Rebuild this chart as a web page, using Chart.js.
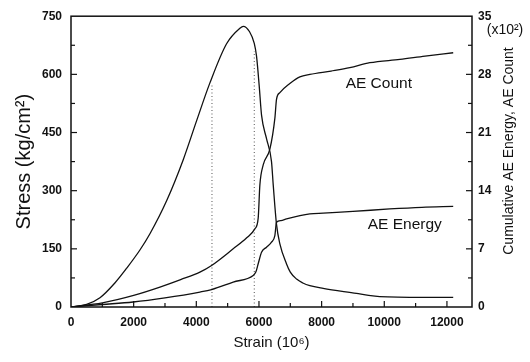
<!DOCTYPE html>
<html>
<head>
<meta charset="utf-8">
<script src="https://cdn.jsdelivr.net/npm/chart.js@4.4.0/dist/chart.umd.min.js"></script>
<style>
  html, body { margin: 0; padding: 0; background: #fff; }
  #wrap { width: 530px; height: 362px; }
</style>
</head>
<body>
<div id="wrap"><canvas id="c"></canvas></div>
<script>
// stress curve (left axis)
const stressStrain = [0, 500, 925, 1400, 1776, 2200, 2520, 3052, 3583, 4008, 4434, 4966, 5391, 5500, 5700, 5850, 5922, 6007, 6082, 6241, 6400, 6455, 6560, 6667, 6880, 7000, 7200, 7400, 7624, 8049, 9113, 9500, 9856, 11238, 12200];
const stress = [0, 7, 24, 62, 100, 147, 189, 274, 380, 480, 578, 679, 719, 724, 710, 680, 647, 571, 495, 434, 375, 315, 213, 163, 111, 90, 72, 62, 55, 48, 35, 30, 27, 25, 25];

// cumulative AE count, x10^2 (right axis)
const countStrain = [0, 1000, 2000, 2839, 3500, 4115, 4488, 5177, 5600, 5869, 5975, 6029, 6135, 6348, 6507, 6560, 6667, 6986, 7305, 7624, 8300, 8900, 9537, 10500, 11300, 12200];
const aeCount = [0, 0.5, 1.4, 2.4, 3.3, 4.2, 5.0, 7.0, 8.3, 9.4, 10.7, 14.7, 17.1, 19.0, 22.7, 25.0, 25.8, 26.9, 27.7, 28.0, 28.4, 28.8, 29.4, 29.8, 30.2, 30.6];

// cumulative AE energy (right axis)
const energyStrain = [0, 1000, 1980, 3000, 4115, 4488, 5177, 5816, 5900, 5975, 6082, 6241, 6400, 6507, 6560, 6700, 6880, 7624, 8049, 9000, 10175, 11200, 12200];
const aeEnergy = [0, 0.3, 0.6, 1.1, 1.8, 2.1, 3.0, 3.8, 4.2, 5.2, 6.6, 7.2, 7.8, 8.6, 10.2, 10.4, 10.6, 11.2, 11.3, 11.5, 11.8, 12.0, 12.1];

// dotted vertical markers
const markerStrain = [4500, 5850];
const markerTop = [575, 660];

// tick labels
const xTicks = [0, 2000, 4000, 6000, 8000, 10000, 12000];
const stressTicks = [0, 150, 300, 450, 600, 750];
const aeTicks = [0, 7, 14, 21, 28, 35];

const FONT = '"Liberation Sans", Arial, sans-serif';
const INK = '#111';

const pts = (xs, ys) => xs.map((x, i) => ({ x: x, y: ys[i] }));

const curve = (data, axis) => ({
  data: data,
  yAxisID: axis,
  borderColor: INK,
  borderWidth: 1.3,
  pointRadius: 0,
  cubicInterpolationMode: 'monotone',
  fill: false
});

const datasets = [
  curve(pts(stressStrain, stress), 'y'),
  curve(pts(countStrain, aeCount), 'y2'),
  curve(pts(energyStrain, aeEnergy), 'y2')
];
markerStrain.forEach((s, i) => {
  datasets.push({
    data: [{ x: s, y: 0 }, { x: s, y: markerTop[i] }],
    yAxisID: 'y',
    borderColor: '#555',
    borderWidth: 1,
    borderDash: [1, 2.5],
    pointRadius: 0
  });
});

// frame, inward ticks and in-plot texts
const frame = {
  id: 'frame',
  afterDatasetsDraw(chart) {
    const { ctx, chartArea: a, scales } = chart;
    ctx.save();
    ctx.strokeStyle = INK;
    ctx.lineWidth = 1.5;
    ctx.strokeRect(a.left, a.top, a.right - a.left, a.bottom - a.top);
    ctx.lineWidth = 1.2;
    const tick = (x1, y1, x2, y2) => { ctx.beginPath(); ctx.moveTo(x1, y1); ctx.lineTo(x2, y2); ctx.stroke(); };
    for (let v = 1000; v <= 12000; v += 1000) {
      const x = scales.x.getPixelForValue(v);
      tick(x, a.bottom, x, a.bottom - (v % 2000 ? 4 : 6));
    }
    for (let v = 75; v < 750; v += 75) {
      const y = scales.y.getPixelForValue(v);
      tick(a.left, y, a.left + (v % 150 ? 4 : 6), y);
    }
    for (let v = 3.5; v < 35; v += 3.5) {
      const y = scales.y2.getPixelForValue(v);
      tick(a.right, y, a.right - (Math.abs(v % 7) > 0.01 ? 4 : 6), y);
    }

    ctx.fillStyle = INK;
    ctx.textAlign = 'center';
    ctx.textBaseline = 'middle';
    ctx.font = '15.5px ' + FONT;
    ctx.fillText('AE Count', scales.x.getPixelForValue(9825), scales.y2.getPixelForValue(26.9));
    ctx.fillText('AE Energy', scales.x.getPixelForValue(10654), scales.y2.getPixelForValue(9.9));

    ctx.font = '14px ' + FONT;
    ctx.fillText('(x10²)', 505, 30);

    ctx.translate(509, 151);
    ctx.rotate(-Math.PI / 2);
    ctx.fillText('Cumulative AE Energy, AE Count', 0, 0);
    ctx.restore();
  }
};

const tickFont = { family: FONT, size: 12, weight: 'bold' };
const plain = v => String(v);

new Chart(document.getElementById('c'), {
  type: 'line',
  data: { datasets: datasets },
  options: {
    responsive: true,
    maintainAspectRatio: false,
    animation: false,
    devicePixelRatio: 1,
    layout: { padding: { top: 13, left: 0, right: 0, bottom: 0 } },
    plugins: { legend: { display: false }, tooltip: { enabled: false } },
    scales: {
      x: {
        type: 'linear',
        min: 0,
        max: 12800,
        afterFit: s => { s.height = 55; },
        afterBuildTicks: s => { s.ticks = xTicks.map(v => ({ value: v })); },
        grid: { display: false, drawTicks: false },
        border: { display: false },
        ticks: { color: INK, font: tickFont, padding: 8, maxRotation: 0, autoSkip: false, callback: plain },
        title: { display: true, text: 'Strain (10⁶)', color: INK, font: { family: FONT, size: 15 }, padding: { top: 0, bottom: 10 } }
      },
      y: {
        position: 'left',
        min: 0,
        max: 750,
        afterFit: s => { s.width = 71; },
        afterBuildTicks: s => { s.ticks = stressTicks.map(v => ({ value: v })); },
        grid: { display: false, drawTicks: false },
        border: { display: false },
        ticks: { color: INK, font: tickFont, padding: 9, callback: plain },
        title: { display: true, text: 'Stress (kg/cm²)', color: INK, font: { family: FONT, size: 20 }, padding: { top: 12, bottom: 0 } }
      },
      y2: {
        position: 'right',
        min: 0,
        max: 35,
        afterFit: s => { s.width = 58; },
        afterBuildTicks: s => { s.ticks = aeTicks.map(v => ({ value: v })); },
        grid: { display: false, drawTicks: false },
        border: { display: false },
        ticks: { color: INK, font: tickFont, padding: 6, callback: plain }
      }
    }
  },
  plugins: [frame]
});
</script>
</body>
</html>
